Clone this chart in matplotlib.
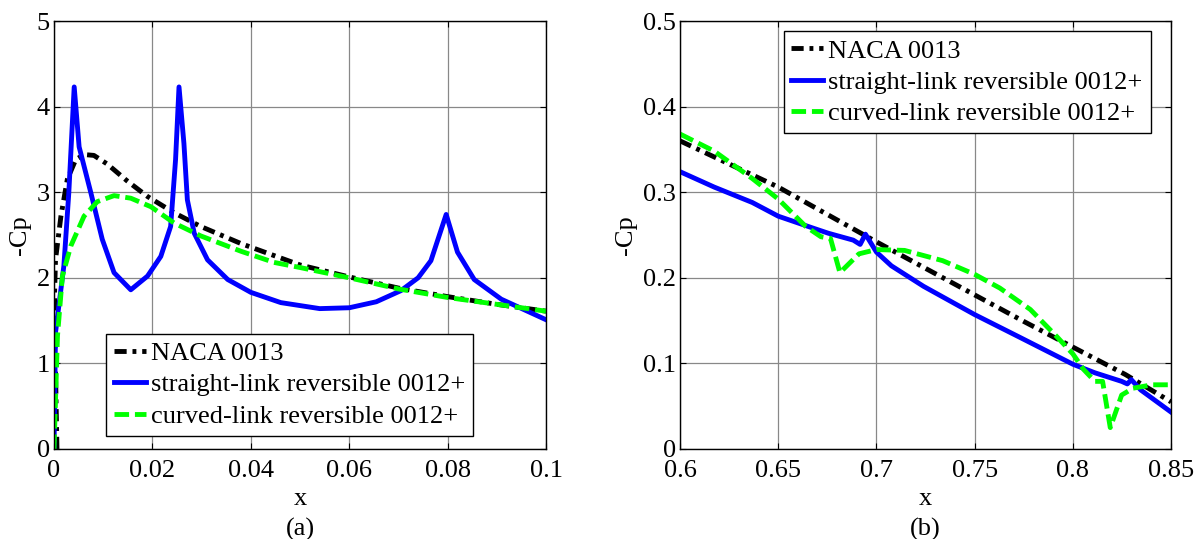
import numpy as np
import matplotlib
matplotlib.use("Agg")
import matplotlib.pyplot as plt

plt.rcParams['font.family'] = ['Liberation Serif', 'DejaVu Serif']
plt.rcParams['font.size'] = 19

labels = ['NACA 0013', 'straight-link reversible 0012+', 'curved-link reversible 0012+']

# (a) leading edge region
naca_a_x = [0.0006, 0.0002, 0.0001, 0.0003, 0.0014, 0.0027, 0.0044, 0.0061, 0.0081, 0.0108,
            0.0149, 0.019, 0.0244, 0.0298, 0.038, 0.0447, 0.05, 0.06, 0.07, 0.08, 0.09, 0.1]
naca_a_y = [0.0, 1.2, 1.8, 2.21, 2.72, 3.15, 3.38, 3.44, 3.43, 3.33,
            3.13, 2.95, 2.76, 2.6, 2.4, 2.26, 2.15, 2.01, 1.88, 1.78, 1.69, 1.61]

straight_a_x = [0.0, 0.0003, 0.002, 0.003, 0.0041, 0.0051, 0.0075, 0.0098, 0.0122, 0.0156,
                0.019, 0.0217, 0.0237, 0.0247, 0.0254, 0.0264, 0.0271, 0.0285, 0.0312, 0.0353,
                0.04, 0.0461, 0.054, 0.06, 0.0655, 0.0705, 0.074, 0.0766, 0.0797, 0.082,
                0.0854, 0.0909, 0.1]
straight_a_y = [0.0, 1.36, 2.14, 2.99, 4.23, 3.53, 2.99, 2.45, 2.06, 1.86,
                2.02, 2.25, 2.6, 3.38, 4.23, 3.57, 2.91, 2.52, 2.21, 1.98,
                1.83, 1.71, 1.64, 1.65, 1.72, 1.85, 2.0, 2.2, 2.74, 2.3,
                1.98, 1.75, 1.51]

curved_a_x = [0.0, 0.0007, 0.0017, 0.0034, 0.0061, 0.0088, 0.0122, 0.0156, 0.0197, 0.0244,
              0.0298, 0.038, 0.0447, 0.05, 0.06, 0.07, 0.08, 0.09, 0.1]
curved_a_y = [0.0, 1.32, 2.02, 2.37, 2.72, 2.89, 2.96, 2.93, 2.83, 2.64,
              2.49, 2.31, 2.18, 2.12, 2.0, 1.87, 1.77, 1.69, 1.61]

# (b) aft region
naca_b_x = [0.6, 0.625, 0.65, 0.675, 0.7, 0.725, 0.75, 0.775, 0.8, 0.8267, 0.85]
naca_b_y = [0.36, 0.333, 0.306, 0.274, 0.242, 0.211, 0.18, 0.149, 0.119, 0.087, 0.055]

straight_b_x = [0.6, 0.6174, 0.6368, 0.65, 0.6678, 0.6756, 0.6882, 0.6917, 0.6944, 0.7,
                0.7076, 0.724, 0.75, 0.7725, 0.8, 0.8112, 0.8248, 0.8277, 0.8297, 0.8345, 0.85]
straight_b_y = [0.324, 0.306, 0.288, 0.272, 0.258, 0.252, 0.244, 0.239, 0.251, 0.23,
                0.214, 0.19, 0.157, 0.131, 0.099, 0.089, 0.079, 0.076, 0.081, 0.069, 0.043]

curved_b_x = [0.6, 0.6174, 0.6368, 0.65, 0.664, 0.6717, 0.6766, 0.6814, 0.6911, 0.7,
              0.7143, 0.7337, 0.75, 0.7628, 0.7783, 0.7919, 0.8, 0.8054, 0.8112, 0.8151,
              0.819, 0.8248, 0.8306, 0.8403, 0.85]
curved_b_y = [0.368, 0.348, 0.316, 0.292, 0.26, 0.248, 0.246, 0.206, 0.228, 0.233,
              0.232, 0.22, 0.204, 0.188, 0.163, 0.131, 0.111, 0.093, 0.079, 0.079,
              0.025, 0.063, 0.071, 0.075, 0.075]

fig = plt.figure(figsize=(11.98, 5.39), dpi=100)
ax1 = fig.add_axes([0.0451, 0.167, 0.4107, 0.794])
ax2 = fig.add_axes([0.5676, 0.167, 0.41, 0.794])

def draw(ax, nx, ny, sx, sy, cx, cy):
    ax.plot(nx, ny, color='black', linestyle=(0, (2.5, 1.2, 0.8, 1.2)), linewidth=3.5, label=labels[0])
    ax.plot(sx, sy, color='#0000ff', linestyle='-', linewidth=3.5, label=labels[1])
    ax.plot(cx, cy, color='#00ff00', linestyle=(0, (3, 1.2)), linewidth=3.5, label=labels[2])
    ax.grid(True, color='#888888', linewidth=0.9)
    ax.tick_params(direction='in', top=True, right=True, length=4)
    ax.tick_params(axis='x', pad=8)
    ax.tick_params(axis='y', pad=3)
    ax.set_xlabel('x', labelpad=4)
    ax.set_ylabel('-Cp', labelpad=4)
    for s in ax.spines.values():
        s.set_linewidth(1.0)

def add_legend(ax, loc, anchor):
    ax.legend(loc=loc, bbox_to_anchor=anchor, fancybox=False, framealpha=1,
              edgecolor='black', handlelength=1.2, handletextpad=0.2, labelspacing=0.3,
              borderpad=0.3, borderaxespad=0)

draw(ax1, naca_a_x, naca_a_y, straight_a_x, straight_a_y, curved_a_x, curved_a_y)
ax1.set_xlim(0, 0.1)
ax1.set_ylim(0, 5)
ax1.set_xticks([0, 0.02, 0.04, 0.06, 0.08, 0.1])
ax1.set_xticklabels(['0', '0.02', '0.04', '0.06', '0.08', '0.1'])
ax1.set_yticks([0, 1, 2, 3, 4, 5])
add_legend(ax1, 'lower left', (0.106, 0.031))

draw(ax2, naca_b_x, naca_b_y, straight_b_x, straight_b_y, curved_b_x, curved_b_y)
ax2.set_xlim(0.6, 0.85)
ax2.set_ylim(0, 0.5)
ax2.set_xticks([0.6, 0.65, 0.7, 0.75, 0.8, 0.85])
ax2.set_xticklabels(['0.6', '0.65', '0.7', '0.75', '0.8', '0.85'])
ax2.set_yticks([0, 0.1, 0.2, 0.3, 0.4, 0.5])
ax2.set_yticklabels(['0', '0.1', '0.2', '0.3', '0.4', '0.5'])
add_legend(ax2, 'upper right', (0.958, 0.976))

fig.text(0.2505, 0.018, '(a)', ha='center', va='center')
fig.text(0.7726, 0.018, '(b)', ha='center', va='center')

fig.savefig('out.png', dpi=100)
